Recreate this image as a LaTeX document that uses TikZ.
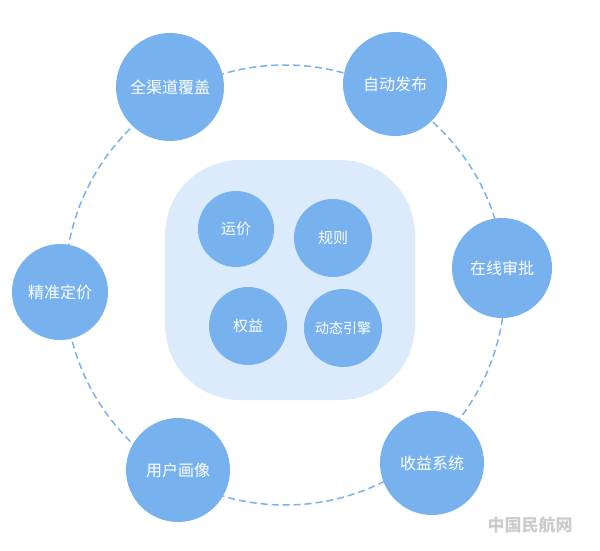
\documentclass[tikz,border=0pt]{standalone}
\usepackage{fontspec}
\setmainfont{Noto Sans CJK SC}
\definecolor{nodeblue}{HTML}{78B2EE}
\definecolor{bgblue}{HTML}{DCEBFB}
\begin{document}
\begin{tikzpicture}[x=1pt,y=-1pt,
  blob/.style={circle,fill=nodeblue,draw=none,text=white,font=\fontsize{16}{16}\selectfont,inner sep=0pt},
  inner/.style={circle,fill=nodeblue,draw=none,text=white,font=\fontsize{15}{15}\selectfont,minimum size=78pt,inner sep=0pt}]
\useasboundingbox (0,0) rectangle (600,551);
\draw[nodeblue,line width=1.5pt,dash pattern=on 7pt off 4pt] (285,285) circle (220);
\node[fill=bgblue,rounded corners=75pt,minimum width=250pt,minimum height=240pt] (core) at (290,280) {};
\node[blob,minimum size=108pt] (a) at (170,87) {全渠道覆盖};
\node[blob,minimum size=104pt] (b) at (395,84) {自动发布};
\node[blob,minimum size=100pt] (c) at (502,268) {在线审批};
\node[blob,minimum size=104pt] (d) at (432,463) {收益系统};
\node[blob,minimum size=104pt] (e) at (178,470) {用户画像};
\node[blob,minimum size=96pt] (f) at (60,292) {精准定价};
\node[inner,minimum size=76pt] (g) at (236,229) {运价};
\node[inner] (h) at (333,238) {规则};
\node[inner] (i) at (248,326) {权益};
\node[inner,font=\fontsize{14}{14}\selectfont] (j) at (343,328) {动态引擎};
\node[text=gray!40,font=\bfseries\fontsize{17}{17}\selectfont] (w) at (530,525) {中国民航网};
\end{tikzpicture}
\end{document}
